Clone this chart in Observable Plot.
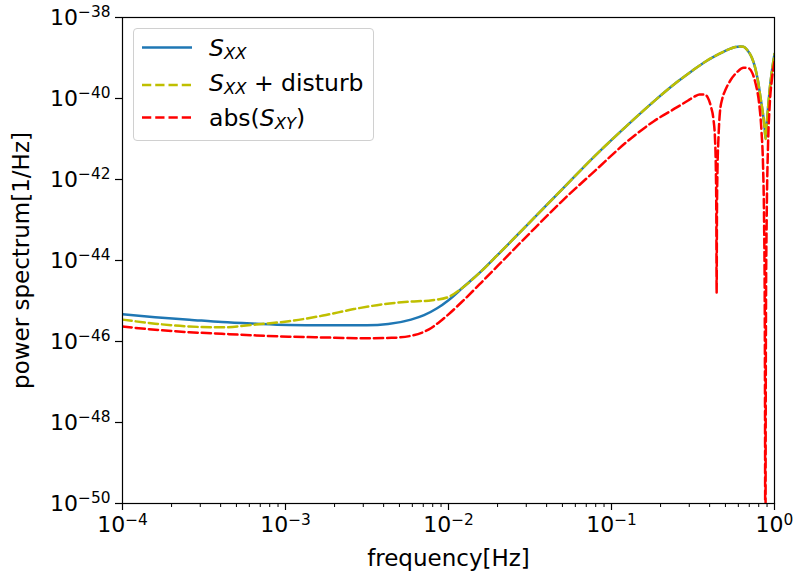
<!DOCTYPE html>
<html><head><meta charset="utf-8">
<script src="https://cdn.jsdelivr.net/npm/d3@7"></script>
<script src="https://cdn.jsdelivr.net/npm/@observablehq/plot@0.6"></script>
<style>
body{margin:0;background:#fff;}
#wrap{position:relative;width:794px;height:571px;font-family:"DejaVu Sans",sans-serif;background:#fff;}
#legendBox{position:absolute;left:133px;top:28px;width:241px;height:113px;box-sizing:border-box;border:1px solid #d0d0d0;border-radius:4px;background:rgba(255,255,255,0.8);}
.lt{position:absolute;font-size:23.5px;line-height:23.5px;white-space:nowrap;color:#000;}
.lt i{font-style:italic;}
.lt sub{font-size:0.7em;vertical-align:-3px;font-style:italic;line-height:0;}
</style></head><body><div id="wrap"></div>
<script>
// ---- data (log10 values) ----
const sxxLogF = [-4.0,-3.8,-3.59,-3.39,-3.18,-2.98,-2.77,-2.5,-2.37,-2.23,-2.15,-2.07,-2.0,-1.91,-1.8,-1.7,-1.5,-1.3,-1.1,-0.9,-0.74,-0.6,-0.5,-0.42,-0.36,-0.31,-0.27,-0.24,-0.21,-0.19,-0.166,-0.14,-0.12,-0.1,-0.085,-0.07,-0.06,-0.055,-0.05,-0.04,-0.03,-0.015,0];
const sxxLogP = [-45.33,-45.40,-45.46,-45.52,-45.56,-45.59,-45.60,-45.60,-45.57,-45.46,-45.35,-45.18,-44.98,-44.66,-44.27,-43.87,-43.05,-42.23,-41.41,-40.65,-40.07,-39.6,-39.3,-39.08,-38.94,-38.84,-38.77,-38.73,-38.715,-38.72,-38.81,-38.98,-39.22,-39.6,-40.0,-40.4,-40.75,-41.0,-40.75,-40.25,-39.8,-39.3,-38.9];

const disturbLogF = [-4.0,-3.8,-3.59,-3.39,-3.18,-2.98,-2.77,-2.58,-2.4,-2.25,-2.1,-2.0,-1.91,-1.8,-1.7,-1.5,-1.3,-1.1,-0.9,-0.74,-0.6,-0.5,-0.42,-0.36,-0.31,-0.27,-0.24,-0.21,-0.19,-0.166,-0.14,-0.12,-0.1,-0.085,-0.07,-0.06,-0.055,-0.05,-0.04,-0.03,-0.015,0];
const disturbLogP = [-45.46,-45.56,-45.63,-45.65,-45.58,-45.50,-45.36,-45.20,-45.08,-45.02,-44.98,-44.90,-44.66,-44.27,-43.87,-43.05,-42.23,-41.41,-40.65,-40.07,-39.6,-39.3,-39.08,-38.94,-38.84,-38.77,-38.73,-38.715,-38.72,-38.81,-38.98,-39.22,-39.6,-40.0,-40.4,-40.75,-41.0,-40.75,-40.25,-39.8,-39.3,-38.9];

const sxyLogF = [-4.0,-3.8,-3.59,-3.39,-3.18,-2.98,-2.77,-2.5,-2.35,-2.23,-2.12,-2.05,-2.0,-1.91,-1.8,-1.7,-1.5,-1.3,-1.1,-0.9,-0.74,-0.6,-0.53,-0.49,-0.46,-0.43,-0.41,-0.39,-0.375,-0.365,-0.36,-0.357,-0.355,-0.353,-0.35,-0.344,-0.335,-0.32,-0.3,-0.27,-0.23,-0.19,-0.16,-0.135,-0.115,-0.095,-0.08,-0.07,-0.064,-0.06,-0.058,-0.056,-0.054,-0.052,-0.048,-0.04,-0.03,-0.015,0];
const sxyLogP = [-45.63,-45.71,-45.77,-45.81,-45.85,-45.88,-45.90,-45.92,-45.91,-45.86,-45.70,-45.50,-45.33,-44.99,-44.55,-44.14,-43.32,-42.52,-41.78,-41.05,-40.56,-40.22,-40.05,-39.95,-39.9,-39.9,-39.97,-40.2,-40.5,-41.0,-41.7,-42.8,-44.8,-42.8,-41.8,-41.0,-40.35,-40.0,-39.78,-39.55,-39.35,-39.24,-39.25,-39.38,-39.65,-40.1,-40.8,-41.7,-43.0,-45.0,-48.0,-53.0,-48.0,-45.0,-43.0,-41.2,-40.2,-39.5,-39.1];

const xTickExps = [-4,-3,-2,-1,0];
const yTickExps = [-50,-48,-46,-44,-42,-40,-38];
const minorMultipliers = [2,3,4,5,6,7,8,9];

const seriesNames = ["S_XX", "S_XX + disturb", "abs(S_XY)"];
const colors = ["#1f77b4", "#bfbf00", "#ff0000"];

// ---- build tables ----
const toRows = (lf, lp) => lf.map((f, i) => ({f: Math.pow(10, f), p: Math.pow(10, lp[i])}));
const sxx = toRows(sxxLogF, sxxLogP);
const disturb = toRows(disturbLogF, disturbLogP);
const sxy = toRows(sxyLogF, sxyLogP);

const xMajor = xTickExps.map(e => Math.pow(10, e));
const yMajor = yTickExps.map(e => Math.pow(10, e));
const xMinor = [];
for (const e of xTickExps.slice(0, -1)) for (const m of minorMultipliers) xMinor.push(m * Math.pow(10, e));

const fmtExp = d => "10^" + Math.round(Math.log10(d));
const dash = "9.25,4";

const chart = Plot.plot({
  width: 794, height: 571,
  marginLeft: 122, marginRight: 20, marginTop: 17, marginBottom: 68,
  style: {fontFamily: "DejaVu Sans", fontSize: "22px", color: "black", background: "white", overflow: "visible"},
  x: {type: "log", domain: [1e-4, 1]},
  y: {type: "log", domain: [1e-50, 1e-38]},
  marks: [
    Plot.line(sxx, {x: "f", y: "p", stroke: colors[0], strokeWidth: 2.5, curve: "monotone-x", clip: true}),
    Plot.line(disturb, {x: "f", y: "p", stroke: colors[1], strokeWidth: 2.5, strokeDasharray: dash, curve: "monotone-x", clip: true}),
    Plot.line(sxy, {x: "f", y: "p", stroke: colors[2], strokeWidth: 2.5, strokeDasharray: dash, curve: "monotone-x", clip: true}),
    Plot.frame({stroke: "black", strokeWidth: 1.2}),
    Plot.axisX({ticks: xMinor, tickSize: 4, tickFormat: () => "", label: null, strokeWidth: 1}),
    Plot.axisX({ticks: xMajor, tickSize: 7, tickPadding: 6, tickFormat: fmtExp, strokeWidth: 1.2,
      label: "frequency[Hz]", labelAnchor: "center", labelArrow: "none", labelOffset: 62}),
    Plot.axisY({ticks: yMajor, tickSize: 7, tickPadding: 5, tickFormat: fmtExp, strokeWidth: 1.2,
      label: "power spectrum[1/Hz]", labelAnchor: "center", labelArrow: "none", labelOffset: 110})
  ]
});

// superscript exponents in tick labels
const NS = "http://www.w3.org/2000/svg";
chart.querySelectorAll("text").forEach(t => {
  const m = t.textContent.match(/^10\^(-?\d+)$/);
  if (!m) return;
  t.textContent = "10";
  const ts = document.createElementNS(NS, "tspan");
  ts.setAttribute("font-size", "0.7em");
  ts.setAttribute("dy", "-0.49em");
  ts.textContent = m[1].replace("-", "\u2212");
  t.appendChild(ts);
});
chart.querySelectorAll('[aria-label="x-axis label"] text, [aria-label="y-axis label"] text').forEach(t => {
  t.setAttribute("font-size", "23px");
  t.textContent = t.textContent.replace(/[↑→↓←]/g, "").trim();
});

const wrap = document.getElementById("wrap");
wrap.appendChild(chart);

// legend
const box = document.createElement("div");
box.id = "legendBox";
wrap.appendChild(box);
const lsvg = document.createElementNS(NS, "svg");
lsvg.setAttribute("width", 794); lsvg.setAttribute("height", 571);
lsvg.style.position = "absolute"; lsvg.style.left = "0"; lsvg.style.top = "0"; lsvg.style.pointerEvents = "none";
const rowY = [47.5, 85, 117.5];
const dashes = [null, dash, dash];
rowY.forEach((y, i) => {
  const l = document.createElementNS(NS, "line");
  l.setAttribute("x1", 142); l.setAttribute("x2", 192);
  l.setAttribute("y1", y); l.setAttribute("y2", y);
  l.setAttribute("stroke", colors[i]); l.setAttribute("stroke-width", 2.5);
  if (dashes[i]) l.setAttribute("stroke-dasharray", dashes[i]);
  lsvg.appendChild(l);
});
wrap.appendChild(lsvg);
const labelsHTML = [
  '<i>S</i><sub>XX</sub>',
  '<i>S</i><sub>XX</sub> + disturb',
  'abs(<i>S</i><sub>XY</sub>)'
];
const textTop = [37, 72, 107];
labelsHTML.forEach((h, i) => {
  const s = document.createElement("span");
  s.className = "lt";
  s.style.left = "209px";
  s.style.top = textTop[i] + "px";
  s.innerHTML = h;
  s.setAttribute("title", seriesNames[i]);
  wrap.appendChild(s);
});
</script></body></html>
